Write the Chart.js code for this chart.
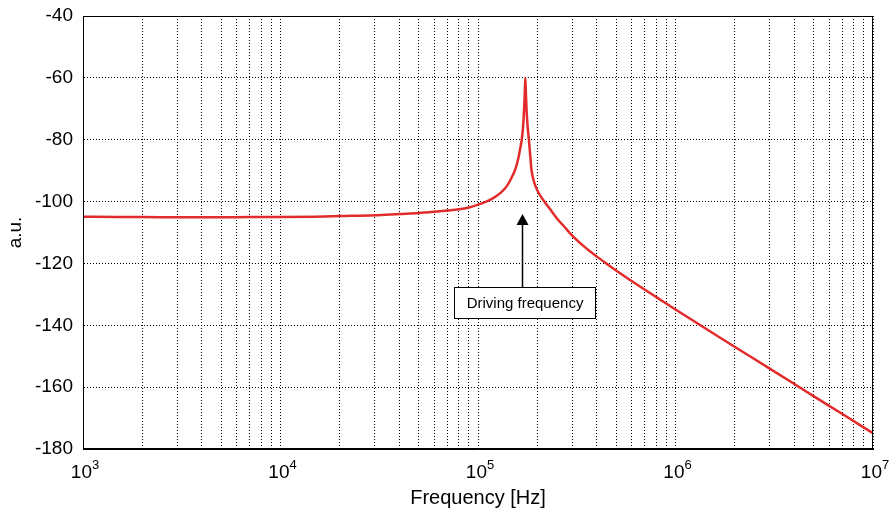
<!DOCTYPE html>
<html>
<head>
<meta charset="utf-8">
<script src="https://cdn.jsdelivr.net/npm/chart.js@4/dist/chart.umd.min.js"></script>
<style>
  html, body { margin: 0; padding: 0; background: #fff; }
  #wrap { width: 890px; height: 510px; position: relative; }
</style>
</head>
<body>
<div id="wrap"><canvas id="resonance"></canvas></div>
<script>
// Frequency response
const freqHz = [1e3, 1.5e3, 2e3, 3e3, 5e3, 7e3, 1e4, 1.5e4, 2e4, 3e4, 4e4, 5e4, 6e4, 7e4, 8e4, 9e4,
    1e5, 1.1e5, 1.2e5, 1.3e5, 1.4e5, 1.5e5, 1.55e5, 1.6e5, 1.63e5, 1.665e5, 1.69e5, 1.71e5, 1.725e5,
    1.736e5, 1.748e5, 1.762e5, 1.785e5, 1.81e5, 1.84e5, 1.866e5, 1.93e5, 2.02e5, 2.18e5, 2.35e5, 2.5e5,
    2.75e5, 3e5, 3.5e5, 4e5, 4.5e5, 5e5, 6e5, 7e5, 8e5, 1e6, 1.5e6, 2e6, 3e6, 4e6, 5e6, 7e6, 1e7];
const levelAU = [-104.9, -105.0, -105.0, -105.1, -105.1, -105.0, -105.0, -104.9, -104.7, -104.4, -104.0,
    -103.7, -103.3, -102.9, -102.5, -101.9, -101.0, -100.0, -98.8, -97.2, -95.0, -91.5, -89.3, -86.0,
    -83.3, -80.0, -76.0, -70.5, -65.0, -60.0, -65.0, -70.5, -76.0, -80.0, -85.5, -89.8, -94.0, -97.0,
    -100.2, -103.0, -105.3, -108.3, -111.0, -114.9, -117.8, -120.2, -122.3, -125.7, -128.5, -130.9,
    -134.9, -142.0, -147.0, -154.0, -159.0, -162.9, -168.7, -174.9];

// Axes
const decades = [1e3, 1e4, 1e5, 1e6, 1e7];
const decadeExp = ['3', '4', '5', '6', '7'];
const minorSteps = [1, 2, 3, 4, 5, 6, 7, 8, 9];
const yTicks = [-180, -160, -140, -120, -100, -80, -60, -40];

// Annotation "Driving frequency"
const noteText = 'Driving frequency';
const noteFreq = 1.665e5;
const noteTip = -104;
const noteBox = { left: 7.6e4, right: 3.94e5, top: -127.7, bottom: -137.7 };

const FONT = '"Liberation Sans", Arial, Helvetica, sans-serif';

function logTickValues() {
    const vals = [];
    decades.forEach(function (d, i) {
        if (i === decades.length - 1) { vals.push(d); return; }
        minorSteps.forEach(function (m) { vals.push(d * m); });
    });
    return vals;
}

function noOverflow(scale) {
    scale.paddingLeft = 0;
    scale.paddingRight = 0;
    scale.paddingTop = 0;
    scale.paddingBottom = 0;
}

// frame, 10^n labels, arrow note
const extras = {
    id: 'extras',
    afterDatasetsDraw(chart) {
        const { ctx, chartArea, scales } = chart;
        const x = scales.x, y = scales.y;

        ctx.save();
        ctx.strokeStyle = '#000';
        ctx.lineWidth = 1;
        ctx.strokeRect(chartArea.left + 0.5, chartArea.top + 0.5,
            chartArea.right - chartArea.left - 1, chartArea.bottom - chartArea.top - 1);

        // decade labels with superscript exponent
        ctx.fillStyle = '#000';
        ctx.textBaseline = 'alphabetic';
        decades.forEach(function (d, i) {
            const px = x.getPixelForValue(d);
            ctx.font = '19px ' + FONT;
            const wBase = ctx.measureText('10').width;
            ctx.font = '13px ' + FONT;
            const wExp = ctx.measureText(decadeExp[i]).width;
            const left = px + 2 - (wBase + wExp) / 2;
            ctx.font = '19px ' + FONT;
            ctx.textAlign = 'left';
            ctx.fillText('10', left, chartArea.bottom + 29);
            ctx.font = '13px ' + FONT;
            ctx.fillText(decadeExp[i], left + wBase, chartArea.bottom + 19.5);
        });

        // arrow
        const ax = Math.round(x.getPixelForValue(noteFreq)) + 0.5;
        const tipY = y.getPixelForValue(noteTip);
        const bTop = y.getPixelForValue(noteBox.top);
        ctx.lineWidth = 1.5;
        ctx.beginPath();
        ctx.moveTo(ax, tipY + 8);
        ctx.lineTo(ax, bTop);
        ctx.stroke();
        ctx.beginPath();
        ctx.moveTo(ax, tipY);
        ctx.lineTo(ax - 6, tipY + 11);
        ctx.lineTo(ax + 6, tipY + 11);
        ctx.closePath();
        ctx.fill();

        // box
        const l = x.getPixelForValue(noteBox.left), r = x.getPixelForValue(noteBox.right);
        const b = y.getPixelForValue(noteBox.bottom);
        ctx.fillStyle = '#fff';
        ctx.fillRect(l, bTop, r - l, b - bTop);
        ctx.lineWidth = 1;
        ctx.strokeRect(Math.round(l) + 0.5, Math.round(bTop) + 0.5, Math.round(r - l), Math.round(b - bTop));
        ctx.fillStyle = '#000';
        ctx.font = '15px ' + FONT;
        ctx.textAlign = 'center';
        ctx.textBaseline = 'middle';
        ctx.fillText(noteText, (l + r) / 2, (bTop + b) / 2 + 1);
        ctx.restore();
    }
};

new Chart(document.getElementById('resonance'), {
    type: 'line',
    data: {
        datasets: [{
            data: freqHz.map(function (f, i) { return { x: f, y: levelAU[i] }; }),
            borderColor: 'rgb(226, 44, 44)',
            borderWidth: 2.5,
            borderJoinStyle: 'round',
            cubicInterpolationMode: 'monotone',
            pointRadius: 0,
            fill: false
        }]
    },
    options: {
        responsive: true,
        maintainAspectRatio: false,
        animation: false,
        layout: { padding: { top: 16, right: 17, left: 0, bottom: 0 } },
        plugins: { legend: { display: false }, tooltip: { enabled: false } },
        scales: {
            x: {
                type: 'logarithmic',
                min: 1e3,
                max: 1e7,
                afterBuildTicks: function (scale) {
                    scale.ticks = logTickValues().map(function (v) { return { value: v }; });
                },
                afterFit: function (scale) { scale.height = 61; noOverflow(scale); },
                grid: { color: '#000', lineWidth: 1, drawTicks: false },
                border: { display: true, color: '#000', width: 1, dash: [1, 2] },
                ticks: {
                    autoSkip: false,
                    maxRotation: 0,
                    callback: function () { return ''; }
                },
                title: {
                    display: true,
                    text: 'Frequency [Hz]',
                    color: '#000',
                    font: { family: FONT, size: 20 },
                    padding: { top: 0, bottom: 0 }
                }
            },
            y: {
                min: -180,
                max: -40,
                afterBuildTicks: function (scale) {
                    scale.ticks = yTicks.map(function (v) { return { value: v }; });
                },
                afterFit: function (scale) { scale.width = 83; noOverflow(scale); },
                grid: { color: '#000', lineWidth: 1, drawTicks: false },
                border: { display: true, color: '#000', width: 1, dash: [1, 2] },
                ticks: {
                    padding: 10,
                    color: '#000',
                    font: { family: FONT, size: 19 }
                },
                title: {
                    display: true,
                    text: 'a.u.',
                    color: '#000',
                    font: { family: FONT, size: 19 },
                    padding: { top: 4, bottom: 0 }
                }
            }
        }
    },
    plugins: [extras]
});
</script>
</body>
</html>
